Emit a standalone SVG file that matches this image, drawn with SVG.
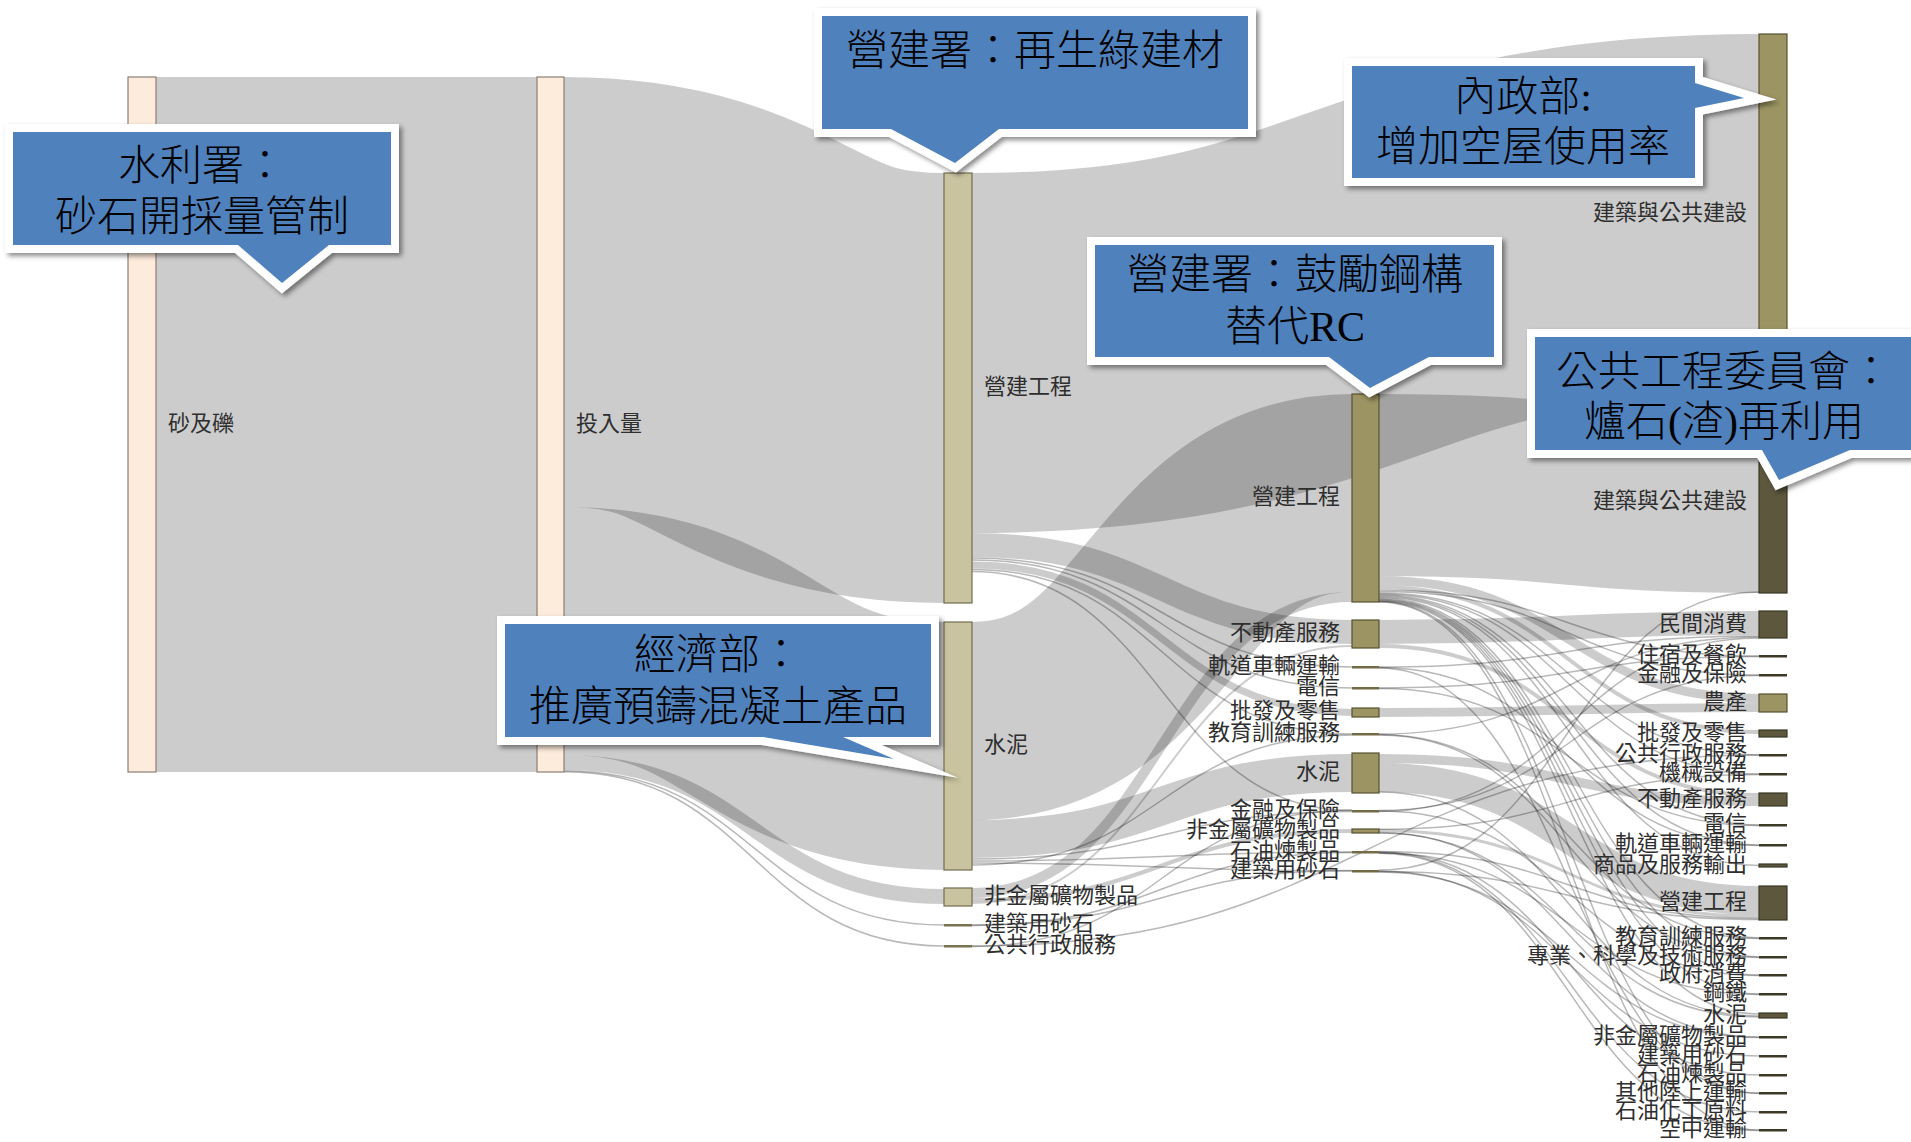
<svg xmlns="http://www.w3.org/2000/svg" width="1911" height="1142" viewBox="0 0 1911 1142">
<defs>
<style>
.lk path{fill:none;stroke:#000;stroke-opacity:.2}
.th path{fill:none;stroke:#000;stroke-opacity:.28;stroke-width:1.5}
.n1{fill:#fdebdc;stroke:#8c7e72;stroke-width:1.2}
.n3{fill:#c9c3a0;stroke:#736d50;stroke-width:1.2}
.n3t{fill:#7a7352}
.n4{fill:#9c9462;stroke:#57522f;stroke-width:1.2}
.n4t{fill:#736b45}
.n5d{fill:#5c573d;stroke:#3a3724;stroke-width:1.2}
.n5t{fill:#3c3927}
.lb{font-family:"Noto Sans CJK TC","Noto Sans CJK SC",sans-serif;font-size:22px;fill:#2e2e2e;dominant-baseline:central;transform:translateY(-4px)}
.r{text-anchor:end}
.cob{fill:#fff;stroke:#fff;stroke-width:16;stroke-linejoin:miter;stroke-miterlimit:12;filter:url(#sh)}
.cof{fill:#4f81bd}
.ct{font-family:"Liberation Serif","Noto Sans CJK TC",serif;font-size:42px;font-weight:300;fill:#000;text-anchor:middle;dominant-baseline:central}
</style>
<filter id="sh" x="-10%" y="-10%" width="130%" height="150%"><feDropShadow dx="3" dy="3" stdDeviation="2.5" flood-color="#000" flood-opacity=".45"/></filter>
</defs>
<rect width="1911" height="1142" fill="#fff"/>
<g id="links">
<g class="lk">
<path d="M156,424.5L537,424.5" stroke-width="695"/>
<path d="M564,292C754,292 754,388 944,388" stroke-width="430"/>
<path d="M564,631C754,631 754,746 944,746" stroke-width="248"/>
<path d="M564,762.5C754,762.5 754,896.5 944,896.5" stroke-width="15"/>
<path d="M972,353C1365.5,353 1365.5,214 1759,214" stroke-width="360"/>
<path d="M972,545C1162,545 1162,632 1352,632" stroke-width="24"/>
<path d="M972,565C1162,565 1162,712.5 1352,712.5" stroke-width="7"/>
<path d="M972,721C1162,721 1162,493 1352,493" stroke-width="198"/>
<path d="M972,839C1162,839 1162,773 1352,773" stroke-width="38"/>
<path d="M972,893C1162,893 1162,597 1352,597" stroke-width="10"/>
<path d="M972,900C1162,900 1162,831 1352,831" stroke-width="4"/>
<path d="M972,903C1162,903 1162,646 1352,646" stroke-width="2"/>
<path d="M1379,485C1569,485 1569,502 1759,502" stroke-width="182"/>
<path d="M1379,580.5C1569,580.5 1569,698.5 1759,698.5" stroke-width="9"/>
<path d="M1379,587C1569,587 1569,732 1759,732" stroke-width="4"/>
<path d="M1379,632C1569,632 1569,623 1759,623" stroke-width="24"/>
<path d="M1379,646C1569,646 1569,795 1759,795" stroke-width="4"/>
<path d="M1379,712.5C1569,712.5 1569,707.5 1759,707.5" stroke-width="9"/>
<path d="M1379,758.5C1569,758.5 1569,801.5 1759,801.5" stroke-width="9"/>
<path d="M1379,777.5C1569,777.5 1569,900.5 1759,900.5" stroke-width="29"/>
<path d="M1379,830.5C1569,830.5 1569,916.5 1759,916.5" stroke-width="3"/>
</g>
<g class="th">
<path d="M564,770.7C754,770.7 754,925 944,925"/>
<path d="M564,771.8C754,771.8 754,946 944,946"/>
<path d="M972,558C1162,558 1162,667 1352,667"/>
<path d="M972,560C1162,560 1162,688 1352,688"/>
<path d="M972,569.5C1162,569.5 1162,734 1352,734"/>
<path d="M972,571.5C1162,571.5 1162,810.5 1352,810.5"/>
<path d="M972,859C1162,859 1162,811.5 1352,811.5"/>
<path d="M972,861C1162,861 1162,852 1352,852"/>
<path d="M972,863C1162,863 1162,871 1352,871"/>
<path d="M972,865C1162,865 1162,735 1352,735"/>
<path d="M972,925C1162,925 1162,870.5 1352,870.5"/>
<path d="M972,925.5C1162,925.5 1162,852.5 1352,852.5"/>
<path d="M972,946C1365.5,946 1365.5,755 1759,755"/>
<path d="M972,946.5C1162,946.5 1162,810 1352,810"/>
<path d="M1379,590C1569,590 1569,656 1759,656"/>
<path d="M1379,591.5C1569,591.5 1569,675 1759,675"/>
<path d="M1379,593C1569,593 1569,755 1759,755"/>
<path d="M1379,594C1569,594 1569,774 1759,774"/>
<path d="M1379,595C1569,595 1569,825 1759,825"/>
<path d="M1379,596C1569,596 1569,845 1759,845"/>
<path d="M1379,597C1569,597 1569,865.5 1759,865.5" stroke-width="2"/>
<path d="M1379,598C1569,598 1569,938 1759,938"/>
<path d="M1379,599C1569,599 1569,957 1759,957"/>
<path d="M1379,599.8C1569,599.8 1569,975 1759,975"/>
<path d="M1379,600.5C1569,600.5 1569,994 1759,994"/>
<path d="M1379,601.2C1569,601.2 1569,1014 1759,1014" stroke-width="2"/>
<path d="M1379,601.6C1569,601.6 1569,1093 1759,1093"/>
<path d="M1379,602C1569,602 1569,1130 1759,1130"/>
<path d="M1379,667C1569,667 1569,636 1759,636"/>
<path d="M1379,667.5C1569,667.5 1569,845.5 1759,845.5"/>
<path d="M1379,668C1569,668 1569,1093.5 1759,1093.5"/>
<path d="M1379,688C1569,688 1569,656.5 1759,656.5"/>
<path d="M1379,688.5C1569,688.5 1569,825.5 1759,825.5"/>
<path d="M1379,734C1569,734 1569,637 1759,637"/>
<path d="M1379,734.5C1569,734.5 1569,938.5 1759,938.5"/>
<path d="M1379,735C1569,735 1569,957.5 1759,957.5"/>
<path d="M1379,792C1569,792 1569,1016 1759,1016"/>
<path d="M1379,810.5C1569,810.5 1569,675.5 1759,675.5"/>
<path d="M1379,811C1569,811 1569,975.5 1759,975.5"/>
<path d="M1379,811.5C1569,811.5 1569,638 1759,638"/>
<path d="M1379,829.3C1569,829.3 1569,774.5 1759,774.5"/>
<path d="M1379,832.5C1569,832.5 1569,1037 1759,1037"/>
<path d="M1379,833C1569,833 1569,1017 1759,1017"/>
<path d="M1379,851.5C1569,851.5 1569,918.5 1759,918.5"/>
<path d="M1379,852C1569,852 1569,1075 1759,1075"/>
<path d="M1379,852.5C1569,852.5 1569,1112 1759,1112"/>
<path d="M1379,853C1569,853 1569,994.5 1759,994.5"/>
<path d="M1379,853.3C1569,853.3 1569,1130.5 1759,1130.5"/>
<path d="M1379,870C1569,870 1569,592 1759,592"/>
<path d="M1379,871C1569,871 1569,1056 1759,1056"/>
<path d="M1379,871.5C1569,871.5 1569,919.5 1759,919.5"/>
<path d="M1379,872C1569,872 1569,1037.5 1759,1037.5"/>
</g>
</g>
<g id="nodes">
<g id="n-sand"><rect class="n1" x="128" y="77" width="28" height="695"/><text class="lb" x="168" y="424.5">砂及礫</text></g>
<g id="n-input"><rect class="n1" x="537" y="77" width="27" height="695"/><text class="lb" x="576" y="424.5">投入量</text></g>
<g id="n-c-constr"><rect class="n3" x="944" y="173" width="28" height="430"/><text class="lb" x="984" y="388">營建工程</text></g>
<g id="n-c-cement"><rect class="n3" x="944" y="622" width="28" height="248"/><text class="lb" x="984" y="746">水泥</text></g>
<g id="n-c-nonmetal"><rect class="n3" x="944" y="888" width="28" height="18"/><text class="lb" x="984" y="897">非金屬礦物製品</text></g>
<g id="n-c-aggregate"><rect class="n3t" x="944" y="924" width="28" height="2.5"/><text class="lb" x="984" y="925">建築用砂石</text></g>
<g id="n-c-pubadmin"><rect class="n3t" x="944" y="945" width="28" height="2.5"/><text class="lb" x="984" y="946">公共行政服務</text></g>
<g id="n-d-constr"><rect class="n4" x="1352" y="394" width="27" height="208"/><text class="lb r" x="1340" y="498">營建工程</text></g>
<g id="n-d-realestate"><rect class="n4" x="1352" y="620" width="27" height="28"/><text class="lb r" x="1340" y="634">不動產服務</text></g>
<g id="n-d-rail"><rect class="n4t" x="1352" y="666" width="27" height="2.5"/><text class="lb r" x="1340" y="667">軌道車輛運輸</text></g>
<g id="n-d-telecom"><rect class="n4t" x="1352" y="687" width="27" height="2.5"/><text class="lb r" x="1340" y="688">電信</text></g>
<g id="n-d-wholesale"><rect class="n4" x="1352" y="708" width="27" height="9"/><text class="lb r" x="1340" y="712">批發及零售</text></g>
<g id="n-d-edu"><rect class="n4t" x="1352" y="733" width="27" height="2.5"/><text class="lb r" x="1340" y="734">教育訓練服務</text></g>
<g id="n-d-cement"><rect class="n4" x="1352" y="753" width="27" height="40"/><text class="lb r" x="1340" y="773">水泥</text></g>
<g id="n-d-finance"><rect class="n4t" x="1352" y="810" width="27" height="2.5"/><text class="lb r" x="1340" y="811">金融及保險</text></g>
<g id="n-d-nonmetal"><rect class="n4" x="1352" y="829" width="27" height="4"/><text class="lb r" x="1340" y="831">非金屬礦物製品</text></g>
<g id="n-d-petro"><rect class="n4t" x="1352" y="851" width="27" height="2.5"/><text class="lb r" x="1340" y="852">石油煉製品</text></g>
<g id="n-d-aggregate"><rect class="n4t" x="1352" y="870" width="27" height="2.5"/><text class="lb r" x="1340" y="871">建築用砂石</text></g>
<g id="n-e-build1"><rect class="n4" x="1759" y="34" width="28" height="360"/><text class="lb r" x="1747" y="214">建築與公共建設</text></g>
<g id="n-e-build2"><rect class="n5d" x="1759" y="411" width="28" height="182"/><text class="lb r" x="1747" y="502">建築與公共建設</text></g>
<g id="n-e-private"><rect class="n5d" x="1759" y="611" width="28" height="27"/><text class="lb r" x="1747" y="624.5">民間消費</text></g>
<g id="n-e-hotel"><rect class="n5t" x="1759" y="655" width="28" height="2.5"/><text class="lb r" x="1747" y="656">住宿及餐飲</text></g>
<g id="n-e-finance"><rect class="n5t" x="1759" y="674" width="28" height="2.5"/><text class="lb r" x="1747" y="675">金融及保險</text></g>
<g id="n-e-agri"><rect class="n4" x="1759" y="694" width="28" height="18"/><text class="lb r" x="1747" y="703">農產</text></g>
<g id="n-e-wholesale"><rect class="n5d" x="1759" y="730" width="28" height="7"/><text class="lb r" x="1747" y="733.5">批發及零售</text></g>
<g id="n-e-pubadmin"><rect class="n5t" x="1759" y="754" width="28" height="2.5"/><text class="lb r" x="1747" y="755">公共行政服務</text></g>
<g id="n-e-machine"><rect class="n5t" x="1759" y="773" width="28" height="2.5"/><text class="lb r" x="1747" y="774">機械設備</text></g>
<g id="n-e-realestate"><rect class="n5d" x="1759" y="793" width="28" height="13"/><text class="lb r" x="1747" y="799.5">不動產服務</text></g>
<g id="n-e-telecom"><rect class="n5t" x="1759" y="824" width="28" height="2.5"/><text class="lb r" x="1747" y="825">電信</text></g>
<g id="n-e-rail"><rect class="n5t" x="1759" y="844" width="28" height="2.5"/><text class="lb r" x="1747" y="845">軌道車輛運輸</text></g>
<g id="n-e-export"><rect class="n5d" x="1759" y="864" width="28" height="3"/><text class="lb r" x="1747" y="865.5">商品及服務輸出</text></g>
<g id="n-e-constr"><rect class="n5d" x="1759" y="886" width="28" height="34"/><text class="lb r" x="1747" y="903">營建工程</text></g>
<g id="n-e-edu"><rect class="n5t" x="1759" y="937" width="28" height="2.5"/><text class="lb r" x="1747" y="938">教育訓練服務</text></g>
<g id="n-e-prof"><rect class="n5t" x="1759" y="956" width="28" height="2.5"/><text class="lb r" x="1747" y="957">專業、科學及技術服務</text></g>
<g id="n-e-gov"><rect class="n5t" x="1759" y="974" width="28" height="2.5"/><text class="lb r" x="1747" y="975">政府消費</text></g>
<g id="n-e-steel"><rect class="n5t" x="1759" y="993" width="28" height="2.5"/><text class="lb r" x="1747" y="994">鋼鐵</text></g>
<g id="n-e-cement"><rect class="n5d" x="1759" y="1013" width="28" height="5"/><text class="lb r" x="1747" y="1015.5">水泥</text></g>
<g id="n-e-nonmetal"><rect class="n5t" x="1759" y="1036" width="28" height="2.5"/><text class="lb r" x="1747" y="1037">非金屬礦物製品</text></g>
<g id="n-e-aggregate"><rect class="n5t" x="1759" y="1055" width="28" height="2.5"/><text class="lb r" x="1747" y="1056">建築用砂石</text></g>
<g id="n-e-petro"><rect class="n5t" x="1759" y="1074" width="28" height="2.5"/><text class="lb r" x="1747" y="1075">石油煉製品</text></g>
<g id="n-e-otherland"><rect class="n5t" x="1759" y="1092" width="28" height="2.5"/><text class="lb r" x="1747" y="1093">其他陸上運輸</text></g>
<g id="n-e-petrochem"><rect class="n5t" x="1759" y="1111" width="28" height="2.5"/><text class="lb r" x="1747" y="1112">石油化工原料</text></g>
<g id="n-e-air"><rect class="n5t" x="1759" y="1129" width="28" height="2.5"/><text class="lb r" x="1747" y="1130">空中運輸</text></g>
</g>
<g id="callouts">
<g id="co-wra">
<path class="cob" d="M13,132H391V245H329L282,283L238,245H13Z"/>
<path class="cof" d="M13,132H391V245H329L282,283L238,245H13Z"/>
<text class="ct" x="202" y="166">水利署：</text>
<text class="ct" x="202" y="217">砂石開採量管制</text>
</g>
<g id="co-cpami1">
<path class="cob" d="M822,16H1248V129H999L955,163L891,129H822Z"/>
<path class="cof" d="M822,16H1248V129H999L955,163L891,129H822Z"/>
<text class="ct" x="1035" y="51">營建署：再生綠建材</text>
</g>
<g id="co-moi">
<path class="cob" d="M1352,66H1695V83L1744,98L1695,108V178H1352Z"/>
<path class="cof" d="M1352,66H1695V83L1744,98L1695,108V178H1352Z"/>
<text class="ct" x="1523" y="97">內政部:</text>
<text class="ct" x="1523" y="147">增加空屋使用率</text>
</g>
<g id="co-cpami2">
<path class="cob" d="M1095,245H1494V357H1429L1370,388L1329,357H1095Z"/>
<path class="cof" d="M1095,245H1494V357H1429L1370,388L1329,357H1095Z"/>
<text class="ct" x="1295" y="275">營建署：鼓勵鋼構</text>
<text class="ct" x="1295" y="327">替代RC</text>
</g>
<g id="co-pcc">
<path class="cob" d="M1535,337H1930V450H1850L1779,480L1762,450H1535Z"/>
<path class="cof" d="M1535,337H1930V450H1850L1779,480L1762,450H1535Z"/>
<text class="ct" x="1724" y="372">公共工程委員會：</text>
<text class="ct" x="1724" y="422">爐石(渣)再利用</text>
</g>
<g id="co-moea">
<path class="cob" d="M505,624H931V737H843L894,759L763,737H505Z"/>
<path class="cof" d="M505,624H931V737H843L894,759L763,737H505Z"/>
<text class="ct" x="718" y="655">經濟部：</text>
<text class="ct" x="718" y="707">推廣預鑄混凝土產品</text>
</g>
</g>
</svg>
